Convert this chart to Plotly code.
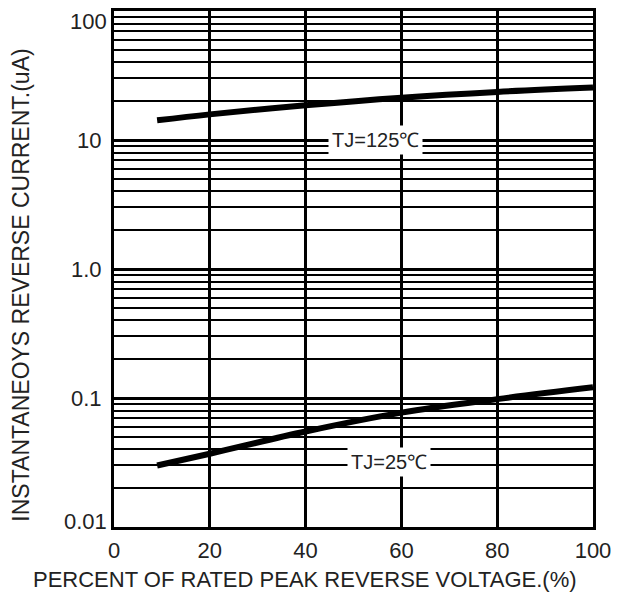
import math
import plotly.graph_objects as go

# Data
x_125 = [9, 20, 40, 60, 80, 100]
i_125 = [14.2, 15.8, 18.6, 21.3, 23.6, 25.5]
x_25 = [9, 20, 40, 60, 80, 100]
i_25 = [0.030, 0.037, 0.055, 0.077, 0.098, 0.121]

x_ticks = [0, 20, 40, 60, 80, 100]
y_ticks = [0.1, 1, 10]
y_tick_text = ["0.1", "1.0", "10"]
# end labels of the y axis sit inside the frame in the reference
y_end_ticks = [0.01, 100]
y_end_text = ["0.01", "100"]

labels = ["TJ=125℃", "TJ=25℃"]
label_x = [54.5, 57.5]
label_y = [10.0, 0.032]

x_title = "PERCENT OF RATED PEAK REVERSE VOLTAGE.(%)"
y_title = "INSTANTANEOYS REVERSE CURRENT.(uA)"

font_family = "Liberation Sans, Arial, sans-serif"

fig = go.Figure()
fig.add_trace(go.Scatter(x=x_125, y=i_125, mode="lines",
                         line=dict(color="black", width=6, shape="spline"),
                         showlegend=False, hoverinfo="skip"))
fig.add_trace(go.Scatter(x=x_25, y=i_25, mode="lines",
                         line=dict(color="black", width=6, shape="spline"),
                         showlegend=False, hoverinfo="skip"))

for t, lx, ly in zip(labels, label_x, label_y):
    fig.add_annotation(x=lx, y=math.log10(ly), yref="y", xref="x", text=t, showarrow=False,
                       bgcolor="white", font=dict(size=20, color="#222", family=font_family),
                       borderpad=3)

for v, t in zip(y_end_ticks, y_end_text):
    shift = -10 if v == max(y_end_ticks) else 6
    fig.add_annotation(x=0, y=math.log10(v), xref="paper", yref="y", text=t,
                       showarrow=False, xanchor="right", yanchor="middle", xshift=-5,
                       yshift=shift, font=dict(size=22, color="#222", family=font_family))

fig.add_annotation(x=0.399, y=-0.1027, xref="paper", yref="paper", text=x_title,
                   showarrow=False, font=dict(size=22, color="#222", family=font_family),
                   xanchor="center", yanchor="middle")
fig.add_annotation(x=-0.196, y=0.468, xref="paper", yref="paper", text=y_title,
                   showarrow=False, textangle=-90,
                   font=dict(size=23, color="#222", family=font_family),
                   xanchor="center", yanchor="middle")

fig.update_layout(
    width=630, height=601,
    margin=dict(l=106, r=45, t=3, b=82),
    paper_bgcolor="white", plot_bgcolor="white",
    font=dict(family=font_family, color="#222", size=22),
    xaxis=dict(range=[0, 100], tickvals=x_ticks, showgrid=True, gridcolor="black",
               gridwidth=3, zeroline=False, showline=True, linecolor="black", linewidth=3,
               mirror=True, ticks="", ticklabelstandoff=2, automargin=False),
    yaxis=dict(type="log", range=[-2, 2], tickvals=y_ticks, ticktext=y_tick_text,
               showgrid=True, gridcolor="black", gridwidth=3, zeroline=False,
               showline=True, linecolor="black", linewidth=3, mirror=True, ticks="",
               ticklabelstandoff=5, automargin=False,
               minor=dict(dtick="D1", showgrid=True, gridcolor="black", gridwidth=2, ticks="")),
)

fig.write_html("out.html")
